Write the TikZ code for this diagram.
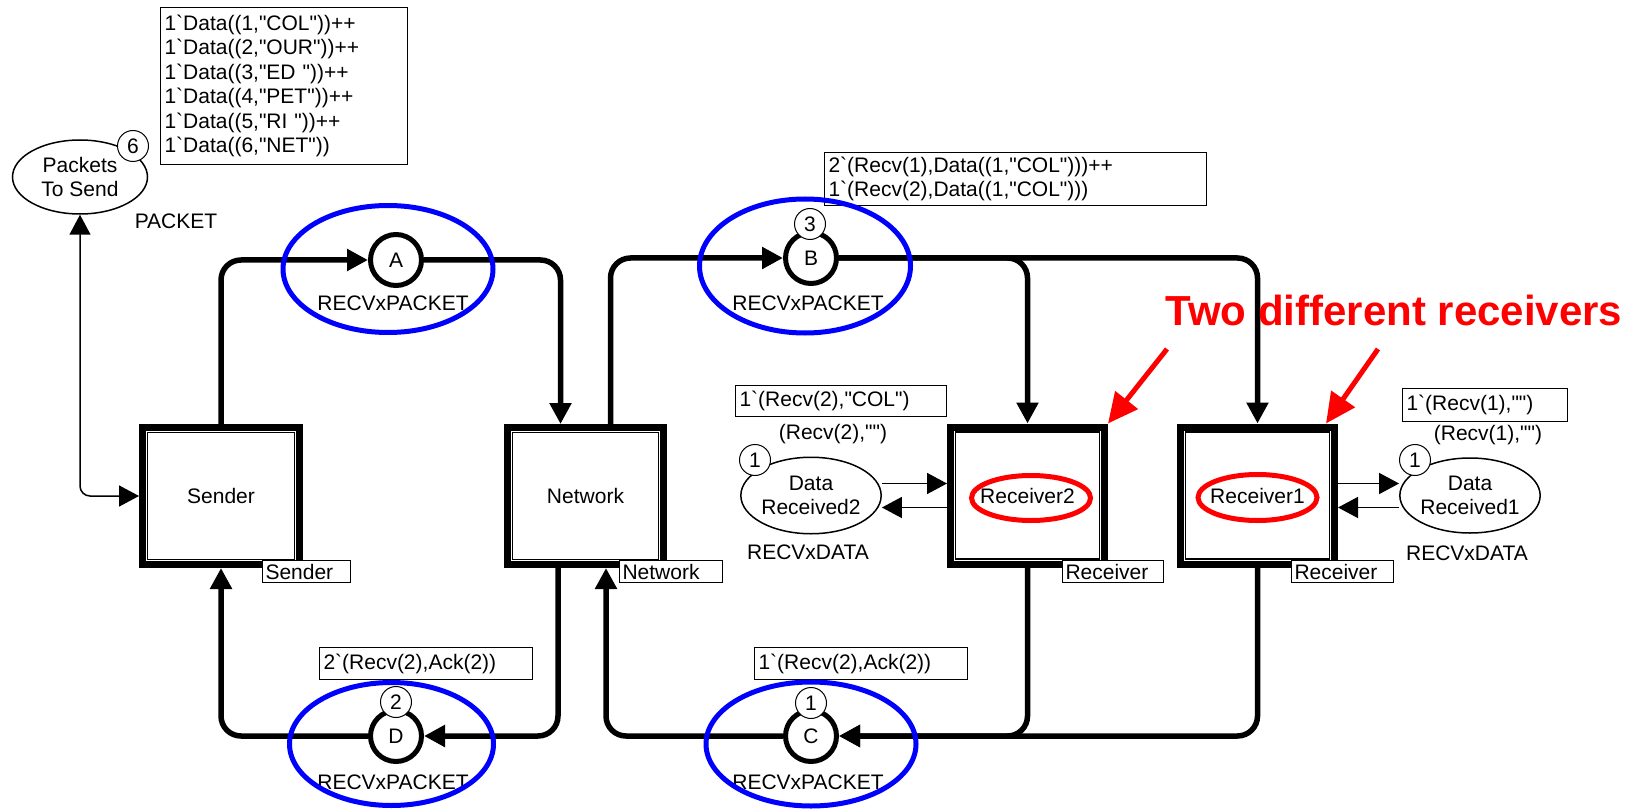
\documentclass[tikz,border=0pt]{standalone}
\usepackage{fontspec}
\newfontfamily\arialf{Liberation Sans}
\usetikzlibrary{arrows.meta,shapes.geometric}
\begin{document}
\begin{tikzpicture}[x=1pt,y=-1pt,
  font=\arialf\fontsize{21}{24.5}\selectfont,
  trans/.style={draw,fill=white,line width=7pt,minimum height=137pt,inner sep=0pt},
  place/.style={circle,draw,fill=white,line width=5pt,minimum size=51pt,inner sep=0pt},
  token/.style={circle,draw,fill=white,line width=1pt,minimum size=31pt,inner sep=0pt},
  oval/.style={ellipse,draw,fill=white,line width=1.5pt,inner sep=0pt,align=center},
  inscr/.style={draw,fill=white,line width=1pt,anchor=north west,inner xsep=4pt,inner ysep=0pt,align=left},
  tagbox/.style={draw,fill=white,line width=1pt,anchor=north west,inner xsep=3pt,inner ysep=0pt,minimum height=22pt,align=left},
  flow/.style={line width=5.5pt,rounded corners=20pt,-{Triangle[length=21pt,width=21pt]}},
  thinflow/.style={line width=1.5pt,-{Triangle[length=20pt,width=21pt]}},
  blueann/.style={draw=blue,line width=5pt},
  redann/.style={draw=red,line width=5pt},
]
\fill[white] (0,0) rectangle (1640,810);
\useasboundingbox (0,0) rectangle (1640,810);

% transitions (substitution transitions)
\node[trans,minimum width=157pt] (Sender) at (221,496) {Sender};
\node[trans,minimum width=156pt] (Network) at (585.5,496) {Network};
\node[trans,minimum width=154pt] (Receiver2) at (1027.5,495.5) {Receiver2};
\node[trans,minimum width=154pt] (Receiver1) at (1257.5,495.5) {Receiver1};

% port places
\node[place] (A) at (396,260) {A};
\node[place] (B) at (811,258) {B};
\node[place] (C) at (811,736) {C};
\node[place] (D) at (396,736) {D};

% ordinary places
\node[oval,minimum width=135pt,minimum height=74pt] (Packets) at (80,177) {Packets\\To Send};
\node[oval,minimum width=136.5pt,minimum height=76.5pt] (DR2) at (811,495.5) {Data\\Received2};
\node[oval,minimum width=136.5pt,minimum height=75pt] (DR1) at (1470,495.5) {Data\\Received1};

% colour sets
\node (tA) at (393,303) {RECVxPACKET};
\node (tB) at (808,303) {RECVxPACKET};
\node (tC) at (808,782) {RECVxPACKET};
\node (tD) at (393,782) {RECVxPACKET};
\node (tP) at (176,221) {PACKET};
\node (tDR2) at (808,552) {RECVxDATA};
\node (tDR1) at (1467,553) {RECVxDATA};

% arcs between places and transitions
\draw[flow] (Sender.north) |- (A);
\draw[flow] (A) -| ([xshift=-25pt]Network.north);
\draw[flow] ([xshift=25pt]Network.north) |- (B);
\draw[flow] (B) -| (Receiver2.north);
\draw[flow] (B) -| (Receiver1.north);
\draw[flow] (Receiver2.south) |- (C);
\draw[flow] (Receiver1.south) |- (C);
\draw[flow] (C) -| ([xshift=20.5pt]Network.south);
\draw[flow] ([xshift=-27.5pt]Network.south) |- (D);
\draw[flow] (D) -| (Sender.south);

\draw[line width=1.5pt,rounded corners=10pt,{Triangle[length=20pt,width=21pt]}-{Triangle[length=20pt,width=21pt]}] (Packets) |- (Sender);

\draw[thinflow] ([yshift=12pt]DR2.east) -- ([yshift=12pt]Receiver2.west);
\draw[thinflow] ([yshift=-12pt]Receiver2.west) -- ([yshift=-12pt]DR2.east);
\draw[thinflow] ([yshift=12pt]Receiver1.east) -- ([yshift=12pt]DR1.west);
\draw[thinflow] ([yshift=-12pt]DR1.west) -- ([yshift=-12pt]Receiver1.east);

% inner frame of the substitution transitions
\foreach \t in {Sender,Network,Receiver2,Receiver1}
  \draw[line width=1.2pt] ([shift={(8.5pt,-8.5pt)}]\t.north west) rectangle ([shift={(-8.5pt,8.5pt)}]\t.south east);

% subpage tags
\node[tagbox,text width=82pt] (SenderTag) at (262,560) {Sender};
\node[tagbox,text width=97pt] (NetworkTag) at (619,560) {Network};
\node[tagbox,text width=95pt] (R2Tag) at (1062,560) {Receiver};
\node[tagbox,text width=96pt] (R1Tag) at (1291,560) {Receiver};

% markings and initial markings
\node[inscr,text width=239pt,minimum height=157pt] (PacketsInit) at (160,7) {1`Data((1,"COL"))++\\1`Data((2,"OUR"))++\\1`Data((3,"ED~"))++\\1`Data((4,"PET"))++\\1`Data((5,"RI~"))++\\1`Data((6,"NET"))};
\node[inscr,text width=374pt,minimum height=53pt] (BMark) at (824,152) {2`(Recv(1),Data((1,"COL")))++\\1`(Recv(2),Data((1,"COL")))};
\node[inscr,text width=203pt,minimum height=31pt] (DR2Mark) at (735,385) {1`(Recv(2),"COL")};
\node (DR2Init) at (833,434) {(Recv(2),"")};
\node[inscr,text width=157pt,minimum height=33pt] (DR1Mark) at (1402,388) {1`(Recv(1),"")};
\node (DR1Init) at (1488,435) {(Recv(1),"")};
\node[inscr,text width=205pt,minimum height=32pt] (DMark) at (319,647) {2`(Recv(2),Ack(2))};
\node[inscr,text width=205pt,minimum height=32pt] (CMark) at (754,647) {1`(Recv(2),Ack(2))};

% token counts
\node[token] (kP) at (133,146) {6};
\node[token] (kB) at (810,224) {3};
\node[token] (kD) at (396,702) {2};
\node[token] (kC) at (811,703) {1};
\node[token] (kDR2) at (755,460) {1};
\node[token] (kDR1) at (1415,460) {1};

% highlights
\draw[blueann] (388,269) ellipse [x radius=105pt, y radius=63.5pt];
\draw[blueann] (805,266) ellipse [x radius=105.5pt, y radius=67pt];
\draw[blueann] (391.5,744) ellipse [x radius=102pt, y radius=61.5pt];
\draw[blueann] (811,744) ellipse [x radius=105pt, y radius=62pt];

\draw[redann] (1031,498) ellipse [x radius=59.5pt, y radius=22.5pt];
\draw[redann] (1257.5,497.5) ellipse [x radius=59.5pt, y radius=23pt];

\node[text=red,font=\arialf\bfseries\fontsize{42}{46}\selectfont] (note) at (1394,310) {Two different receivers};
\coordinate (r2tail) at (1167,349);
\coordinate (r1tail) at (1378,349);
\draw[redann,-{Triangle[length=30pt,width=28pt]}] (r2tail) -- (Receiver2.north east);
\draw[redann,-{Triangle[length=30pt,width=28pt]}] (r1tail) -- ([xshift=-12pt]Receiver1.north east);
\end{tikzpicture}
\end{document}
